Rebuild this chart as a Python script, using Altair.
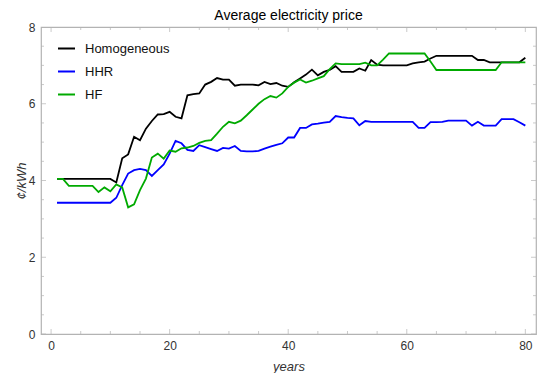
import altair as alt
import pandas as pd

years = list(range(1, 81))

homogeneous = [4.04, 4.04, 4.04, 4.04, 4.04, 4.04, 4.04, 4.04, 4.04, 4.04,
               3.95, 4.58, 4.68, 5.14, 5.05, 5.35, 5.55, 5.72, 5.73, 5.79,
               5.66, 5.62, 6.22, 6.25, 6.27, 6.50, 6.57, 6.67, 6.63, 6.63,
               6.47, 6.50, 6.50, 6.50, 6.48, 6.57, 6.51, 6.54, 6.47, 6.44,
               6.56, 6.66, 6.76, 6.89, 6.74, 6.83, 6.88, 6.98, 6.83, 6.83,
               6.83, 6.92, 6.86, 7.14, 7.02, 7.00, 7.00, 7.00, 7.00, 7.00,
               7.05, 7.08, 7.10, 7.18, 7.25, 7.25, 7.25, 7.25, 7.25, 7.25,
               7.25, 7.14, 7.14, 7.08, 7.08, 7.08, 7.08, 7.08, 7.08, 7.20]

hhr = [3.42, 3.42, 3.42, 3.42, 3.42, 3.42, 3.42, 3.42, 3.42, 3.42,
       3.55, 3.88, 4.18, 4.27, 4.30, 4.27, 4.12, 4.27, 4.42, 4.70,
       5.03, 4.97, 4.80, 4.77, 4.92, 4.87, 4.82, 4.77, 4.85, 4.83,
       4.90, 4.77, 4.76, 4.76, 4.77, 4.83, 4.88, 4.93, 4.97, 5.12,
       5.12, 5.37, 5.37, 5.46, 5.48, 5.51, 5.53, 5.68, 5.65, 5.63,
       5.62, 5.44, 5.55, 5.53, 5.53, 5.53, 5.53, 5.53, 5.53, 5.53,
       5.53, 5.37, 5.37, 5.52, 5.52, 5.53, 5.56, 5.56, 5.56, 5.56,
       5.43, 5.53, 5.43, 5.43, 5.43, 5.60, 5.60, 5.60, 5.52, 5.43]

hf = [4.04, 4.04, 3.86, 3.86, 3.86, 3.86, 3.86, 3.70, 3.82, 3.72,
      3.90, 3.82, 3.30, 3.38, 3.75, 4.05, 4.60, 4.70, 4.57, 4.78,
      4.75, 4.84, 4.86, 4.90, 4.98, 5.03, 5.05, 5.22, 5.40, 5.53,
      5.49, 5.56, 5.70, 5.85, 6.00, 6.12, 6.20, 6.16, 6.27, 6.44,
      6.55, 6.63, 6.55, 6.60, 6.66, 6.72, 6.90, 7.05, 7.03, 7.03,
      7.03, 7.03, 7.07, 7.00, 7.00, 7.15, 7.31, 7.31, 7.31, 7.31,
      7.31, 7.31, 7.31, 7.10, 6.88, 6.88, 6.88, 6.88, 6.88, 6.88,
      6.88, 6.88, 6.88, 6.88, 6.88, 7.08, 7.08, 7.08, 7.08, 7.08]

series_names = ["Homogeneous", "HHR", "HF"]
series_colors = ["#000000", "#0000ff", "#00aa00"]

x_label_values = [0, 20, 40, 60, 80]
y_label_values = [0, 2, 4, 6, 8]
x_tick_values = [0, 5, 10, 15, 20, 25, 30, 35, 40, 45, 50, 55, 60, 65, 70, 75, 80]
y_tick_values = [0, 0.5, 1, 1.5, 2, 2.5, 3, 3.5, 4, 4.5, 5, 5.5, 6, 6.5, 7, 7.5, 8]

FONT = "Liberation Sans"
FRAME = "#b3b3b3"
W, H = 495, 307

rows = []
for name, vals in zip(series_names, [homogeneous, hhr, hf]):
    for yr, v in zip(years, vals):
        rows.append({"year": yr, "price": v, "series": name})
df = pd.DataFrame(rows)

x_scale = alt.Scale(domain=[-1.7, 81.8], nice=False, zero=False)
y_scale = alt.Scale(domain=[0, 8], nice=False)

lines = alt.Chart(df).mark_line(strokeWidth=1.8).encode(
    x=alt.X("year:Q", scale=x_scale,
            axis=alt.Axis(title="years", values=x_label_values, ticks=False,
                          domain=False, grid=False, labelPadding=6,
                          titlePadding=9, titleFontStyle="italic",
                          titleFontWeight="normal", titleFontSize=13,
                          labelFontSize=12, labelFont=FONT, titleFont=FONT,
                          labelColor="#333333", titleColor="#333333")),
    y=alt.Y("price:Q", scale=y_scale,
            axis=alt.Axis(title="¢/kWh", values=y_label_values, ticks=False,
                          domain=False, grid=False, labelPadding=6,
                          titlePadding=0, titleFontStyle="italic",
                          titleFontWeight="normal", titleFontSize=13,
                          labelFontSize=12, labelFont=FONT, titleFont=FONT,
                          labelColor="#333333", titleColor="#333333")),
    color=alt.Color("series:N",
                    scale=alt.Scale(domain=series_names, range=series_colors),
                    sort=series_names,
                    legend=alt.Legend(title=None, orient="none", legendX=16,
                                      legendY=12, symbolType="stroke",
                                      symbolSize=289, symbolStrokeWidth=2,
                                      labelFontSize=13, labelFont=FONT,
                                      labelColor="#111111", rowPadding=6,
                                      labelOffset=9, padding=0)),
)

def major_len(v, majors):
    return 10 if v in majors else 6

xt = pd.DataFrame({"t": x_tick_values,
                   "len": [major_len(v, x_label_values) for v in x_tick_values]})
yt = pd.DataFrame({"t": y_tick_values,
                   "len": [major_len(v, y_label_values) for v in y_tick_values]})

tick_mark = dict(clip=True, color=FRAME, thickness=1)

bottom = alt.Chart(xt).mark_tick(**tick_mark).encode(
    x=alt.X("t:Q", scale=x_scale),
    y=alt.value(H), size=alt.Size("len:Q", scale=None))
top = alt.Chart(xt).mark_tick(**tick_mark).encode(
    x=alt.X("t:Q", scale=x_scale),
    y=alt.value(0), size=alt.Size("len:Q", scale=None))
left = alt.Chart(yt).mark_tick(**tick_mark).encode(
    y=alt.Y("t:Q", scale=y_scale),
    x=alt.value(0), size=alt.Size("len:Q", scale=None))
right = alt.Chart(yt).mark_tick(**tick_mark).encode(
    y=alt.Y("t:Q", scale=y_scale),
    x=alt.value(W), size=alt.Size("len:Q", scale=None))

chart = alt.layer(lines, bottom, top, left, right).properties(
    width=W, height=H,
    title=alt.TitleParams("Average electricity price", fontSize=14,
                          fontWeight="normal", font=FONT, color="#000000",
                          offset=-2, anchor="middle"),
    autosize=alt.AutoSizeParams(type="none"),
    padding={"left": 33, "top": 19, "right": 6, "bottom": 39},
).configure(background="white").configure_view(stroke=FRAME, strokeWidth=1.2)

chart.save("out.html", embed_options={"renderer": "svg", "actions": False})
